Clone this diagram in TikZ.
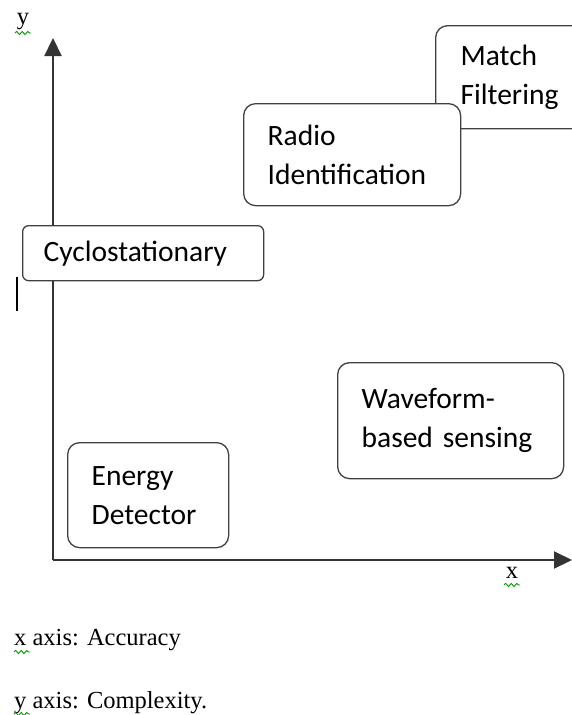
\documentclass[tikz,border=0pt]{standalone}
\usepackage{fontspec}
\setmainfont{Liberation Serif}
\newfontfamily\boxfont{Carlito}
\usetikzlibrary{arrows.meta, decorations.pathmorphing}

\begin{document}
\begin{tikzpicture}[x=1pt, y=-1pt,
  method/.style={draw=black!75, line width=1.3pt, rounded corners=12pt, fill=white,
    anchor=north west, align=left, inner xsep=24pt, inner ysep=0pt,
    font=\boxfont\fontsize{29.5}{39}\selectfont},
  axis/.style={draw=black!80, line width=2.2pt, -{Triangle[length=18pt,width=17pt]}},
  spell/.style={draw=green!60!black, line width=0.9pt, decorate,
    decoration={snake, amplitude=1.6pt, segment length=5.5pt}},
  lbl/.style={font=\fontsize{24.5}{28}\selectfont, inner sep=0pt}]
\useasboundingbox (0,0) rectangle (572,715);
\coordinate (origin) at (53,560);
\coordinate (ytip) at (53,38);
\coordinate (xtip) at (572,560);
\draw[axis] (origin) -- (ytip);
\draw[axis] (origin) -- (xtip);
\draw[line width=2.5pt] (17,277) -- (17,311);
\node[method, minimum width=150, minimum height=103, text width=100] (match) at (435,25) {Match\\Filtering};
\node[method, minimum width=217, minimum height=102, text width=169] (radio) at (243,103) {Radio\\Identification};
\node[method, rounded corners=6pt, minimum width=241, minimum height=55, text width=199, inner xsep=21pt] (cyclo) at (22,225) {Cyclostationary};
\node[method, minimum width=226, minimum height=116, text width=178] (wave) at (337,362) {Waveform-\\based sensing};
\node[method, minimum width=161, minimum height=105, text width=113] (energy) at (67,442) {Energy\\Detector};
\node[lbl, anchor=base] (ylbl) at (23,24) {y};
\node[lbl, anchor=base] (xlbl) at (512,578) {x};
\node[lbl, anchor=base west] (xaxis) at (14,645) {x axis: Accuracy};
\node[lbl, anchor=base west] (yaxis) at (14,708) {y axis: Complexity.};
\draw[spell] (15,33) -- (31,33);
\draw[spell] (504,585) -- (520,585);
\draw[spell] (14,652) -- (30,652);
\draw[spell] (14,714) -- (30,714);
\end{tikzpicture}
\end{document}
